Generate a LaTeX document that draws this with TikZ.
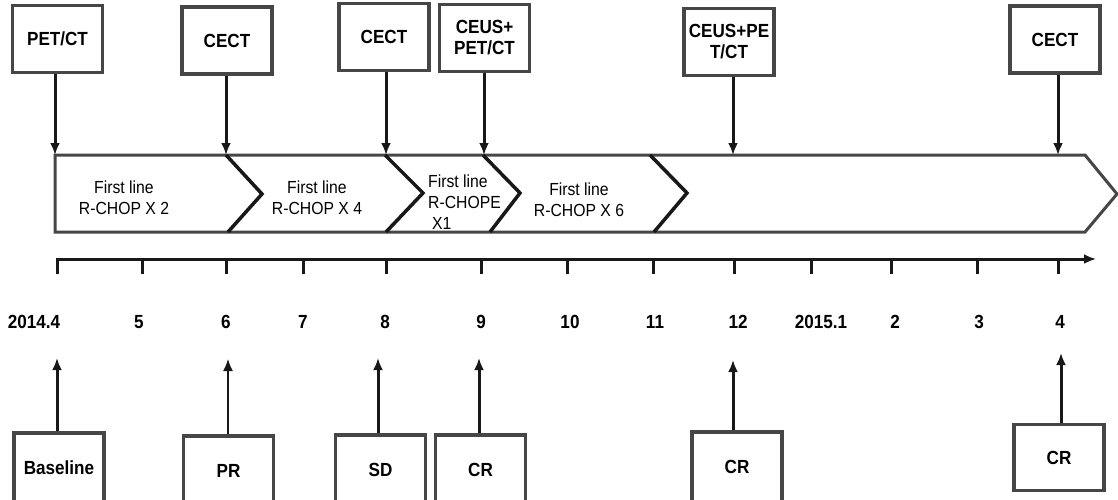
\documentclass[tikz,border=0pt]{standalone}
\usepackage{fontspec}
\setmainfont[FakeStretch=0.9]{Liberation Sans}
\usepackage{xcolor}
\usepackage{tikz}
\usetikzlibrary{arrows.meta}
\definecolor{boxgray}{HTML}{464646}
\definecolor{inkblack}{HTML}{181818}

\begin{document}
\begin{tikzpicture}[x=1pt, y=-1pt, >={Latex[length=12pt,width=10pt]},
    exam/.style={draw=boxgray, line width=3.5pt, rectangle, minimum width=90pt, minimum height=67pt, align=center, inner sep=2pt, font=\fontsize{19}{21}\selectfont\bfseries},
    resp/.style={exam, minimum height=70pt},
    regimen/.style={align=center, inner sep=0pt, font=\fontsize{17.5}{21}\selectfont},
    month/.style={inner sep=0pt, font=\fontsize{19}{20}\selectfont\bfseries},
    marker/.style={->, draw=inkblack, line width=3pt},
    chevron/.style={draw=inkblack, line width=3.5pt, line join=miter}]
    \useasboundingbox (0,0) rectangle (1118,500);
    \clip (0,0) rectangle (1118,500);

    \node (petct) [exam] at (57.5,39) {PET/CT};
    \node (cect1) [exam] at (227,40.5) {CECT};
    \node (cect2) [exam] at (384,37) {CECT};
    \node (ceus1) [exam] at (484.5,38) {CEUS+\\PET/CT};
    \node (ceus2) [exam] at (729,42) {CEUS+PE\\T/CT};
    \node (cect3) [exam] at (1055,39.5) {CECT};

    \coordinate (d1) at (55,155);
    \coordinate (d2) at (226,155);
    \coordinate (d3) at (386,155);
    \coordinate (d4) at (484,155);
    \coordinate (d5) at (733,155);
    \coordinate (d6) at (1058,155);

    \draw[draw=boxgray, line width=3pt] (55,155) -- (1085,155) -- (1117,194) -- (1085,232) -- (55,232) -- cycle;
    \draw[chevron] (226,155) -- (262,194) -- (228,232);
    \draw[chevron] (385,155) -- (423,193) -- (386,232);
    \draw[chevron] (483,155) -- (520,193) -- (490,232);
    \draw[chevron] (650,155) -- (687,193) -- (654,232);

    \node (rchop2) [regimen] at (124,197.5) {First line\\R-CHOP X 2};
    \node (rchop4) [regimen] at (317,197.5) {First line\\R-CHOP X 4};
    \node (rchope) [regimen, align=left, anchor=west] at (428,202) {First line\\R-CHOPE\\\hspace*{4pt}X1};
    \node (rchop6) [regimen] at (579,200) {First line\\R-CHOP X 6};

    \draw[marker] (petct.south -| d1) -- (d1);
    \draw[marker] (cect1.south -| d2) -- (d2);
    \draw[marker] (cect2.south -| d3) -- (d3);
    \draw[marker] (ceus1.south -| d4) -- (d4);
    \draw[marker] (ceus2.south -| d5) -- (d5);
    \draw[marker] (cect3.south -| d6) -- (d6);

    \coordinate (ax0) at (57,274);
    \coordinate (ax1) at (1096,259);
    \draw[marker] (ax0) -- (57,259) -- (ax1);
    \foreach \x in {142,226,303,386,481,567,653,734,811,891,977,1058}
        \draw[draw=inkblack, line width=3pt] (\x,259) -- (\x,274);

    \foreach \x/\m [count=\i] in {34/2014.4,139/5,226/6,303/7,385/8,481/9,570/10,655/11,738/12,821/2015.1,895/2,979/3,1060/4}
        \node (month\i) [month] at (\x,322) {\m};

    \node (base) [resp] at (59,468) {Baseline};
    \node (pr) [resp] at (228.5,471) {PR};
    \node (sd) [resp] at (380.5,470) {SD};
    \node (cr1) [resp] at (480.5,470) {CR};
    \node (cr2) [resp] at (737,467) {CR};
    \node (cr3) [resp, minimum height=66pt] at (1059,457.5) {CR};

    \coordinate (u1) at (57,358);
    \coordinate (u2) at (228,359);
    \coordinate (u3) at (378,358);
    \coordinate (u4) at (479,358);
    \coordinate (u5) at (733,360);
    \coordinate (u6) at (1061,353);

    \draw[marker] (base.north -| u1) -- (u1);
    \draw[marker, line width=1.5pt] (pr.north -| u2) -- (u2);
    \draw[marker] (sd.north -| u3) -- (u3);
    \draw[marker] (cr1.north -| u4) -- (u4);
    \draw[marker] (cr2.north -| u5) -- (u5);
    \draw[marker] (cr3.north -| u6) -- (u6);
\end{tikzpicture}
\end{document}
